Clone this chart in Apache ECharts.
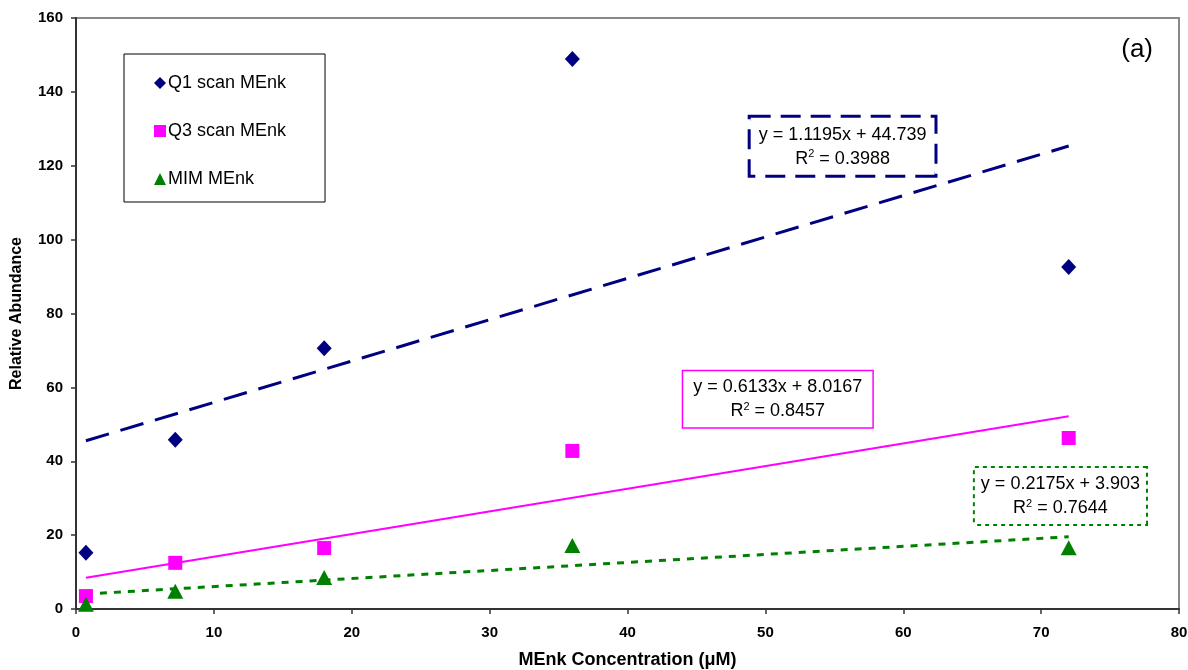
<!DOCTYPE html>
<html>
<head>
<meta charset="utf-8">
<script src="https://cdn.jsdelivr.net/npm/echarts@6/dist/echarts.min.js"></script>
<style>
  html, body { margin: 0; padding: 0; background: #fff; }
  #chart { width: 1188px; height: 670px; }
</style>
</head>
<body>
<div id="chart"></div>
<script>
// MEnk concentrations (µM)
const concentrations = [0.72, 7.2, 18, 36, 72];

// Relative abundance per acquisition mode
const q1Values  = [15.2, 45.8, 70.6, 148.9, 92.6];
const q3Values  = [3.5, 12.5, 16.5, 42.8, 46.3];
const mimValues = [1.3, 4.8, 8.5, 17.2, 16.6];

const seriesNames = ['Q1 scan MEnk', 'Q3 scan MEnk', 'MIM MEnk'];

// Linear fits: y = slope * x + intercept
const slopes     = [1.1195, 0.6133, 0.2175];
const intercepts = [44.739, 8.0167, 3.903];
const rSquared   = ['0.3988', '0.8457', '0.7644'];
const slopeText     = ['1.1195', '0.6133', '0.2175'];
const interceptText = ['44.739', '8.0167', '3.903'];

const xTicks = [0, 10, 20, 30, 40, 50, 60, 70, 80];
const yTicks = [0, 20, 40, 60, 80, 100, 120, 140, 160];

const FONT = '"Liberation Sans", Arial, sans-serif';
const colors = ['#000080', '#FF00FF', '#008000'];
const symbols = ['diamond', 'rect', 'triangle'];
const symbolSizes = [[15, 16], 14, [16, 15]];
const valueSets = [q1Values, q3Values, mimValues];

function pairs(vals) {
  return concentrations.map((x, i) => [x, vals[i]]);
}

function fitLine(k) {
  const x0 = concentrations[0];
  const x1 = concentrations[concentrations.length - 1];
  return [[x0, slopes[k] * x0 + intercepts[k]], [x1, slopes[k] * x1 + intercepts[k]]];
}

const lineStyles = [
  { width: 3, type: [24, 12] },
  { width: 2, type: 'solid' },
  { width: 3, type: [7, 7] }
];

// Equation box styles and anchor points (data coordinates)
const boxStyles = [
  { borderWidth: 3, borderType: [20, 10], padding: [5, 8, 4, 8], at: [55.6, 125.3] },
  { borderWidth: 1.5, borderType: 'solid', padding: [4, 10, 4, 10], at: [50.9, 56.8] },
  { borderWidth: 2, borderType: [4, 4], padding: [4, 6, 4, 6], at: [71.4, 30.6] }
];

const series = [];

// scatter points
valueSets.forEach((vals, k) => {
  series.push({
    name: seriesNames[k],
    type: 'scatter',
    data: pairs(vals),
    symbol: symbols[k],
    symbolSize: symbolSizes[k],
    itemStyle: { color: colors[k], opacity: 1 },
    z: 5
  });
});

// trend lines
valueSets.forEach((vals, k) => {
  series.push({
    name: seriesNames[k] + ' fit',
    type: 'line',
    data: fitLine(k),
    showSymbol: false,
    symbol: 'none',
    silent: true,
    lineStyle: { color: colors[k], width: lineStyles[k].width, type: lineStyles[k].type },
    z: 3
  });
});

// equation labels
valueSets.forEach((vals, k) => {
  const b = boxStyles[k];
  series.push({
    name: seriesNames[k] + ' eq',
    type: 'scatter',
    data: [b.at],
    symbol: 'circle',
    symbolSize: 2,
    itemStyle: { color: 'rgba(255,255,255,0)', opacity: 1 },
    silent: true,
    z: 6,
    label: {
      show: true,
      opacity: 1,
      position: 'inside',
      formatter: () => 'y = ' + slopeText[k] + 'x + ' + interceptText[k] + '\n{r|R}{sup|2}{r| = ' + rSquared[k] + '}',
      fontFamily: FONT,
      fontSize: 18,
      lineHeight: 24,
      color: '#000',
      textBorderWidth: 0,
      align: 'center',
      verticalAlign: 'middle',
      backgroundColor: '#fff',
      borderColor: colors[k],
      borderWidth: b.borderWidth,
      borderType: b.borderType,
      padding: b.padding,
      rich: {
        r: { fontFamily: FONT, fontSize: 18, lineHeight: 24, color: '#000' },
        sup: { fontFamily: FONT, fontSize: 11, lineHeight: 24, color: '#000', padding: [0, 0, 9, 0] }
      }
    }
  });
});

const chart = echarts.init(document.getElementById('chart'), null, { renderer: 'canvas' });

chart.setOption({
  backgroundColor: '#fff',
  animation: false,
  textStyle: { fontFamily: FONT },
  title: {
    text: '(a)',
    right: 30,
    top: 32,
    textStyle: { fontFamily: FONT, fontSize: 26, fontWeight: 'normal', color: '#000' }
  },
  legend: {
    data: seriesNames.map((n, k) => ({ name: n, icon: symbols[k] })),
    orient: 'vertical',
    left: 124,
    top: 54,
    itemWidth: 12,
    itemHeight: 12,
    itemGap: 30,
    padding: [20, 39, 14, 30],
    backgroundColor: '#fff',
    borderColor: '#000',
    borderWidth: 1,
    textStyle: { fontFamily: FONT, fontSize: 18, color: '#000', padding: [0, 0, 0, -3] },
    selectedMode: false
  },
  grid: {
    left: 76,
    right: 9,
    top: 18,
    bottom: 61,
    containLabel: false,
    outerBoundsMode: 'none',
    show: true,
    borderColor: '#888',
    borderWidth: 2,
    backgroundColor: '#fff'
  },
  xAxis: {
    type: 'value',
    min: xTicks[0],
    max: xTicks[xTicks.length - 1],
    interval: 10,
    name: 'MEnk Concentration (μM)',
    nameLocation: 'middle',
    nameGap: 42,
    nameTextStyle: { fontFamily: FONT, fontSize: 18, fontWeight: 'bold', color: '#000' },
    axisLine: { show: true, lineStyle: { color: '#333', width: 2 } },
    axisTick: { show: true, length: 5, lineStyle: { color: '#333', width: 1.5 } },
    axisLabel: { fontFamily: FONT, fontSize: 15, fontWeight: 'bold', color: '#000', margin: 16 },
    splitLine: { show: false }
  },
  yAxis: {
    type: 'value',
    min: yTicks[0],
    max: yTicks[yTicks.length - 1],
    interval: 20,
    name: 'Relative Abundance',
    nameLocation: 'middle',
    nameGap: 51,
    nameTextStyle: { fontFamily: FONT, fontSize: 16, fontWeight: 'bold', color: '#000' },
    axisLine: { show: true, lineStyle: { color: '#333', width: 2 } },
    axisTick: { show: true, length: 5, lineStyle: { color: '#333', width: 1.5 } },
    axisLabel: { fontFamily: FONT, fontSize: 15, fontWeight: 'bold', color: '#000', margin: 13 },
    splitLine: { show: false }
  },
  series: series
});
</script>
</body>
</html>
